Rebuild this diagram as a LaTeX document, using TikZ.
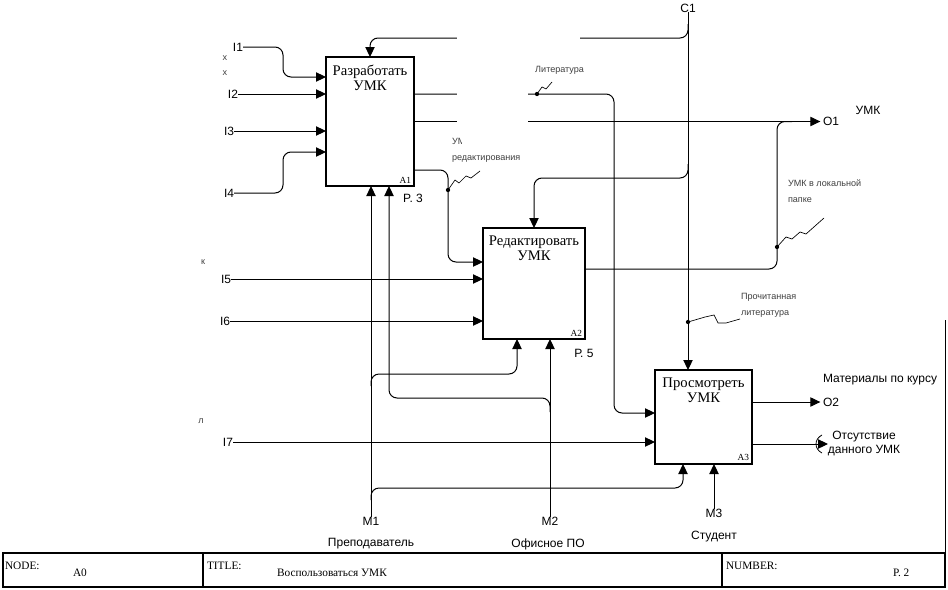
\documentclass[tikz,border=0pt]{standalone}
\usepackage{fontspec}
\setmainfont{Liberation Serif}
\newfontfamily\lsans{Liberation Sans}
\usetikzlibrary{arrows.meta,calc}
\begin{document}
\begin{tikzpicture}[x=0.75pt,y=-0.75pt,
  every node/.style={inner sep=0pt,outer sep=0pt},
  arr/.style={draw,line width=0.75pt,-{Triangle[length=7.5pt,width=7pt]}},
  ln/.style={draw,line width=0.75pt},
  rc/.style={rounded corners=6pt},
  box/.style={draw,line width=0.8pt,fill=white},
  lab/.style={font=\lsans\fontsize{9}{10.5}\selectfont},
  note/.style={font=\lsans\fontsize{6.8}{12}\selectfont,text=black!75,align=left},
  ttl/.style={font=\fontsize{11}{11.5}\selectfont,align=center},
  idx/.style={font=\fontsize{7}{8}\selectfont},
  frm/.style={font=\fontsize{8.5}{9}\selectfont},
  sq/.style={draw,line width=0.5pt}]
\useasboundingbox (0,0) rectangle (948,589);
\fill[white] (0,0) rectangle (948,589);

% boxes
\node[box,minimum width=66pt,minimum height=96.75pt] (A1) at (370,121.5) {};
\node[box,minimum width=76.5pt,minimum height=83.25pt] (A2) at (534,283.5) {};
\node[box,minimum width=72.75pt,minimum height=70.5pt] (A3) at (703.5,417) {};
\node[ttl,anchor=north] (A1t) at ($(A1.north)+(0,8)$) {Разработать\\УМК};
\node[ttl,anchor=north] (A2t) at ($(A2.north)+(0,8)$) {Редактировать\\УМК};
\node[ttl,anchor=north] (A3t) at ($(A3.north)+(0,8)$) {Просмотреть\\УМК};
\node[idx,anchor=south east] (A1n) at ($(A1.south east)+(-3,-3)$) {A1};
\node[idx,anchor=south east] (A2n) at ($(A2.south east)+(-3,-3)$) {A2};
\node[idx,anchor=south east] (A3n) at ($(A3.south east)+(-3,-3)$) {A3};
\node[lab] (P3) at (413,198) {P. 3};
\node[lab] (P5) at (584,353) {Р. 5};

% input labels
\node[lab] (I1) at (238,47) {I1};
\node[lab] (I2) at (233,94) {I2};
\node[lab] (I3) at (229,131) {I3};
\node[lab] (I4) at (229,193) {I4};
\node[lab] (I5) at (226,279) {I5};
\node[lab] (I6) at (225,321) {I6};
\node[lab] (I7) at (228,442) {I7};
\node[note] (x1) at (225,58) {х};
\node[note] (x2) at (225,73) {х};
\node[note] (x3) at (203,262) {к};
\node[note] (x4) at (201,421) {л};

% inputs
\draw[arr,rc] (I1.east) -- (283,47) -- (283,77) -- (A1.west |- 0,77);
\draw[arr] (I2.east) -- (A1.west |- I2.east);
\draw[arr] (I3.east) -- (A1.west |- I3.east);
\draw[arr,rc] (I4.east) -- (283,193) -- (283,152) -- (A1.west |- 0,152);
\draw[arr] (I5.east) -- (A2.west |- I5.east);
\draw[arr] (I6.east) -- (A2.west |- I6.east);
\draw[arr] (I7.east) -- (A3.west |- I7.east);

% control
\node[lab] (C1) at (688,8) {C1};
\draw[arr] (C1.south) -- (C1.south |- A3.north);
\draw[arr,rc] (C1.south |- 0,24) -- (C1.south |- 0,38) -- (A1.north |- 0,38) -- (A1.north);
\draw[arr,rc] (C1.south |- 0,164) -- (C1.south |- 0,178) -- (A2.north |- 0,178) -- (A2.north);

% outputs of A1
\node[lab,anchor=west] (O1) at (823,121.5) {O1};
\draw[arr,shorten >=2pt] (A1.east) -- (O1.west);
\draw[arr,rc] (A1.east |- 0,94) -- (614,94) -- (614,413) -- (A3.west |- 0,413);
\draw[arr,rc] (A1.east |- 0,170) -- (448,170) -- (448,262) -- (A2.west |- 0,262);
% output of A2
\draw[ln,rc] (A2.east |- 0,269) -- (777,269) -- (777,121.5) -- (792,121.5);

% mechanisms
\node[lab] (M1) at (371,521) {M1};
\node[lab] (M1n) at (371,544) {Преподаватель};
\node[lab] (M2) at (550,521) {M2};
\node[lab] (M2n) at (548,544) {Офисное ПО};
\node[lab] (M3) at (714,513) {M3};
\node[lab] (M3n) at (714,537) {Студент};
\draw[arr] (M1.north) -- (M1.north |- A1.south);
\draw[arr,rc] (M1.north |- 0,386) -- (M1.north |- 0,374) -- (517,374) -- (517,0 |- A2.south);
\draw[arr,rc] (M1.north |- 0,500) -- (M1.north |- 0,488) -- (683,488) -- (683,0 |- A3.south);
\draw[arr] (M2.north) -- (M2.north |- A2.south);
\draw[arr,rc] (M2.north |- 0,412) -- (M2.north |- 0,398) -- (389,398) -- (389,0 |- A1.south);
\draw[arr] (M3.north) -- (M3.north |- A3.south);

% outputs of A3
\node[lab,anchor=west] (O2) at (823,402) {O2};
\draw[arr,shorten >=2pt] (A3.east |- O2.west) -- (O2.west);
\node[lab,align=center] (abs) at (864,443) {Отсутствие\\данного УМК};
\coordinate (tun) at (828,444);
\draw[arr] (A3.east |- tun) -- (tun);
\draw[line width=0.6pt] (822,435) .. controls (814,439) and (814,449) .. (822,453);

% external labels
\node[lab] (UMK) at (868,110) {УМК};
\node[lab] (Mat) at (880,380) {Материалы по курсу};

% squiggle labels
\fill (537,94) circle (1.6pt);
\draw[sq] (537,94) -- (542,87) -- (546,89) -- (552,82);
\node[note,anchor=east] (L1) at (584,70) {Литература};
\fill (448,190) circle (1.6pt);
\draw[sq] (448,190) -- (455,180) -- (459,183) -- (466,176) -- (471,178) -- (480,171);
\node[note,anchor=north west,align=left] (L2) at (452,138) {УМК для\\редактирования};
\fill (777,247) circle (1.6pt);
\draw[sq] (777,247) -- (786,237) -- (792,239) -- (800,232) -- (806,234) -- (824,218);
\node[note,anchor=north west,align=left] (L3) at (788,180) {УМК в локальной\\папке};
\fill (688,322) circle (1.6pt);
\draw[sq] (688,322) -- (705,317) -- (714,315) -- (718,323) -- (726,323) -- (740,319);
\node[note,anchor=north west,align=left] (L4) at (741,293) {Прочитанная\\литература};

% occluding white areas
\fill[white] (457,28) rectangle (580,56);
\fill[white] (457,56) rectangle (528,137);
\fill[white] (462,137) rectangle (528,148);

% right edge line
\draw[line width=0.75pt] (945,320) -- (945,553);

% frame
\draw[line width=0.8pt] (3,553) rectangle (945,587);
\draw[line width=0.8pt] (203,553) -- (203,587);
\draw[line width=0.8pt] (722,553) -- (722,587);
\node[frm,anchor=west] (fn) at (5,566) {NODE:};
\node[frm,anchor=west] (fnv) at (73,573) {A0};
\node[frm,anchor=west] (ft) at (207,566) {TITLE:};
\node[frm,anchor=west] (ftv) at (277,573) {Воспользоваться УМК};
\node[frm,anchor=west] (fnu) at (726,566) {NUMBER:};
\node[frm,anchor=west] (fnuv) at (893,573) {P. 2};
\end{tikzpicture}
\end{document}
